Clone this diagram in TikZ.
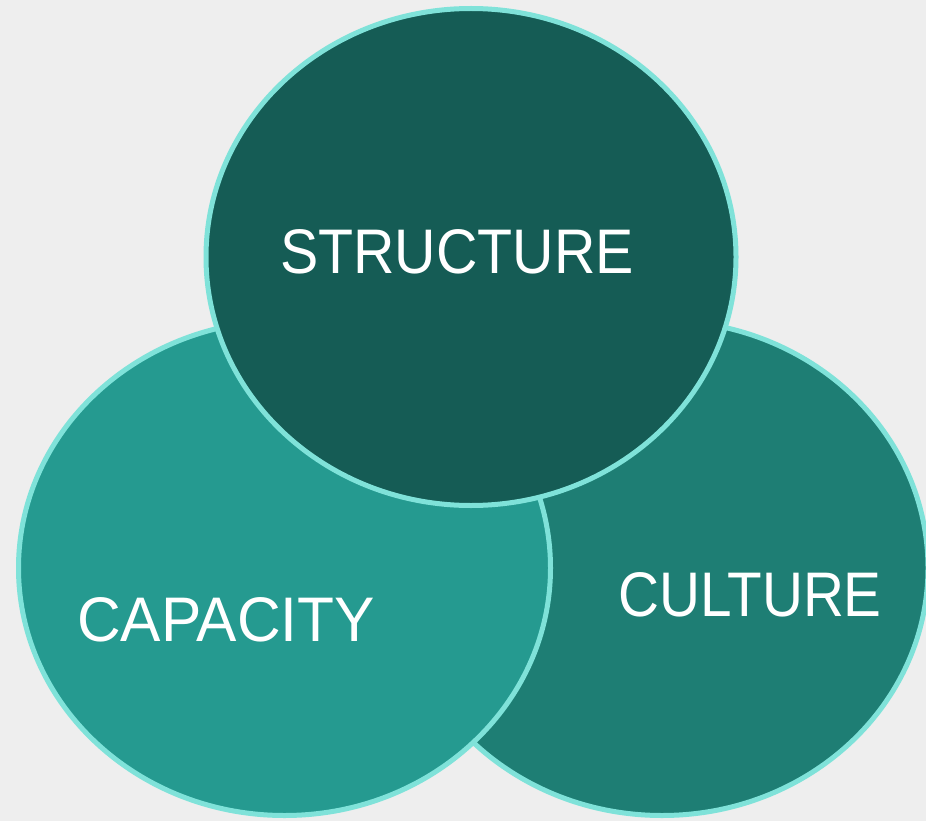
\documentclass[tikz,border=0pt]{standalone}
\usepackage{fontspec}
\setmainfont{Liberation Sans}
\usetikzlibrary{shapes.geometric}
\definecolor{bgray}{HTML}{EEEEEE}
\definecolor{rim}{HTML}{7FE2D9}
\definecolor{structfill}{HTML}{155C55}
\definecolor{capfill}{HTML}{259A90}
\definecolor{cultfill}{HTML}{1E7E74}
\begin{document}
\begin{tikzpicture}[x=1pt,y=-1pt,
    blob/.style={ellipse,draw=rim,line width=5pt,inner sep=0pt},
    word/.style={text=white,font=\fontsize{63}{63}\selectfont}]
    \fill[bgray] (0,0) rectangle (926,821);
    \useasboundingbox (0,0) rectangle (926,821);
    \node[blob,fill=cultfill,minimum width=532pt,minimum height=495pt] (culture) at (662,568) {};
    \node[blob,fill=capfill,minimum width=532pt,minimum height=495pt] (capacity) at (284.5,568) {};
    \node[blob,fill=structfill,minimum width=530pt,minimum height=497pt] (structure) at (471,257) {};
    \node[word] (lstructure) at (457,252) {\scalebox{0.91}[1]{STRUCTURE}};
    \node[word] (lcapacity) at (226,620) {\scalebox{0.96}[1]{CAPACITY}};
    \node[word] (lculture) at (750,595) {\scalebox{0.9}[1]{CULTURE}};
\end{tikzpicture}
\end{document}
